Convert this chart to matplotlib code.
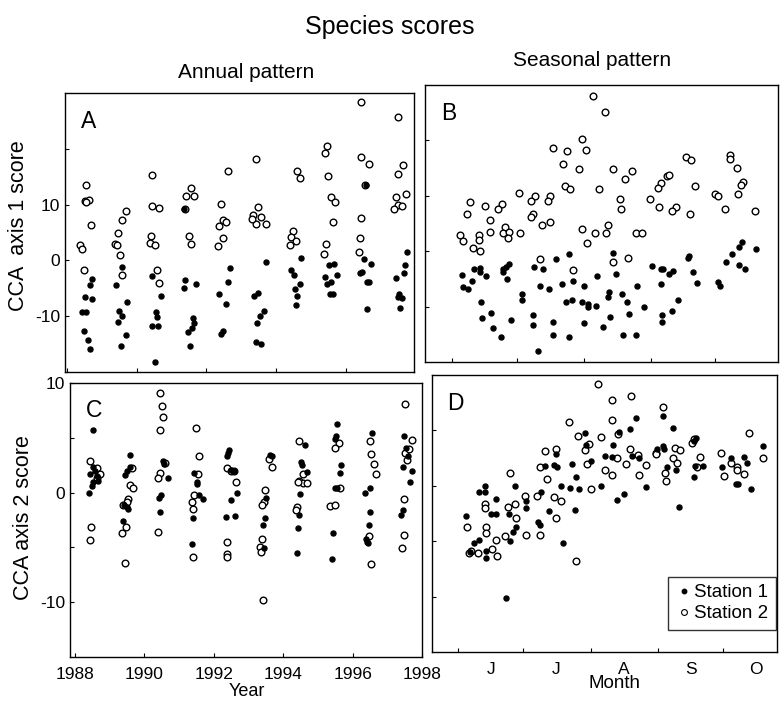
import matplotlib
matplotlib.use("Agg")
import matplotlib.pyplot as plt
from matplotlib.lines import Line2D

plt.rcParams['font.family'] = ['Liberation Sans', 'DejaVu Sans']

# ---- Panel A: CCA axis 1 score vs year ----
a_st1_year = [1988.73, 1988.66, 1988.51, 1988.72, 1988.45, 1988.56, 1988.50, 1988.61, 1988.68,
              1989.57, 1989.42, 1989.74, 1989.50, 1989.57, 1989.47, 1989.69, 1989.56,
              1990.44, 1990.71, 1990.56, 1990.60, 1990.44, 1990.62, 1990.54,
              1991.37, 1991.40, 1991.37, 1991.70, 1991.61, 1991.66, 1991.59, 1991.47, 1991.54,
              1992.68, 1992.63, 1992.35, 1992.56, 1992.49, 1992.41,
              1993.71, 1993.37, 1993.49, 1993.66, 1993.54, 1993.45, 1993.42, 1993.56,
              1994.72, 1994.42, 1994.50, 1994.68, 1994.53, 1994.61, 1994.57,
              1995.66, 1995.51, 1995.74, 1995.40, 1995.56, 1995.45, 1995.54, 1995.62,
              1996.57, 1996.51, 1996.71, 1996.45, 1996.39, 1996.59, 1996.65, 1996.61,
              1997.75, 1997.69, 1997.66, 1997.44, 1997.53, 1997.50, 1997.61, 1997.56]
a_st1_score = [-3.3, -4.4, -6.6, -7.0, -9.3, -9.3, -12.7, -14.3, -15.9,
               -1.2, -4.4, -7.4, -9.1, -9.9, -11.1, -13.4, -15.3,
               -2.8, -6.4, -9.3, -10.2, -11.8, -11.8, -18.2,
               9.2, -3.6, -4.9, -4.2, -10.4, -11.2, -12.1, -12.8, -15.3,
               -1.4, -3.9, -6.1, -7.9, -12.7, -13.2,
               -0.2, -6.3, -5.8, -9.1, -9.9, -11.2, -14.7, -15.0,
               0.4, -1.8, -2.7, -4.2, -5.1, -6.3, -8.0,
               -0.6, -0.9, -2.7, -3.0, -3.9, -4.2, -6.0, -6.0,
               13.5, 0.2, -0.7, -2.1, -2.2, -3.9, -3.9, -8.7,
               1.5, -0.9, -2.3, -3.1, -6.0, -6.6, -6.8, -8.5]
a_st2_year = [1988.54, 1988.51, 1988.64, 1988.56, 1988.70, 1988.39, 1988.45, 1988.49,
              1989.69, 1989.59, 1989.48, 1989.37, 1989.44, 1989.54, 1989.58,
              1990.44, 1990.43, 1990.64, 1990.42, 1990.38, 1990.53, 1990.59, 1990.63,
              1991.56, 1991.42, 1991.66, 1991.51, 1991.57, 1991.40,
              1992.62, 1992.42, 1992.49, 1992.56, 1992.35, 1992.47, 1992.33,
              1993.42, 1993.49, 1993.35, 1993.58, 1993.42, 1993.71, 1993.32,
              1994.61, 1994.67, 1994.47, 1994.42, 1994.56, 1994.40,
              1995.45, 1995.41, 1995.50, 1995.58, 1995.69, 1995.64, 1995.42, 1995.38,
              1996.43, 1996.43, 1996.66, 1996.55, 1996.43, 1996.41, 1996.38,
              1997.49, 1997.63, 1997.49, 1997.72, 1997.44, 1997.49, 1997.39, 1997.61]
a_st2_score = [13.6, 10.6, 10.8, 10.5, 6.3, 2.8, 2.0, -1.8,
               8.9, 7.2, 4.9, 3.0, 2.8, 0.9, -2.7,
               15.3, 9.8, 9.4, 4.3, 3.2, 2.8, -1.8, -4.0,
               12.9, 11.5, 11.5, 4.4, 2.9, 9.3,
               16.0, 10.1, 7.3, 6.9, 6.2, 4.0, 2.5,
               18.2, 9.6, 8.1, 7.8, 6.6, 6.6, 7.4,
               16.0, 14.7, 5.2, 4.2, 3.4, 2.8,
               20.5, 19.2, 15.1, 11.4, 10.4, 6.8, 3.0, 1.1,
               28.3, 18.6, 17.2, 13.5, 7.6, 4.1, 1.5,
               25.7, 17.1, 15.5, 11.9, 11.4, 9.9, 9.3, 9.8]

# ---- Panel B: CCA axis 1 score vs day of year ----
b_st1_day = [206.3, 200.1, 178.5, 177.0, 175.8, 175.8, 190.0, 194.2, 164.9, 164.9, 162.2, 156.5,
             167.7, 177.7, 161.1, 208.2, 219.3, 157.3, 159.6, 192.9, 197.1, 202.8, 213.1, 184.3,
             184.3, 165.4, 204.6, 207.7, 212.0, 214.8, 214.8, 218.6, 165.7, 170.3, 179.5, 189.5,
             189.5, 198.8, 213.0, 170.8, 174.6, 198.8, 206.0, 192.0,
             226.7, 227.8, 244.5, 248.7, 249.9, 252.6, 254.5, 261.9, 261.4, 263.7, 265.7, 248.8,
             237.5, 224.8, 224.1, 230.9, 232.9, 241.0, 225.1, 222.1, 233.8, 249.1, 249.1, 254.1,
             256.8, 231.4, 237.3, 279.1, 281.9, 284.8, 286.5, 284.8, 287.9, 292.7, 275.0, 276.0]
b_st1_score = [-0.5, -1.4, -2.3, -2.8, -3.3, -3.8, -2.8, -3.3, -3.1, -3.8, -3.3, -4.3,
               -4.4, -5.0, -5.3, -5.4, -4.4, -6.5, -6.8, -6.2, -6.8, -6.0, -6.3, -7.7,
               -8.8, -9.1, -9.1, -8.8, -9.1, -9.5, -10.1, -9.9, -12.1, -11.2, -12.4, -11.6,
               -13.3, -12.7, -13.0, -13.8, -15.4, -15.1, -15.4, -18.1,
               -0.4, -4.1, -2.6, -3.3, -3.3, -4.2, -3.5, -0.8, -1.2, -3.8, -5.8, -5.9,
               -6.3, -7.4, -8.3, -7.7, -9.1, -10.1, -11.9, -13.6, -11.4, -11.5, -12.7, -10.8,
               -8.8, -15.1, -15.1, -2.0, -0.5, 0.8, 1.6, -2.5, -3.3, 0.4, -5.5, -6.2]
b_st2_day = [217.4, 212.3, 198.9, 205.1, 214.0, 203.2, 210.8, 204.3, 206.6, 220.2, 183.2, 190.4,
             188.6, 197.4, 196.3, 160.3, 167.4, 175.1, 173.4, 158.8, 169.6, 189.5, 188.5, 193.8,
             197.6, 176.5, 175.8, 178.5, 177.8, 169.6, 183.5, 155.7, 157.2, 164.7, 164.7, 161.9,
             164.9, 212.3, 218.2, 214.4, 192.9, 208.2,
             222.8, 226.7, 235.6, 232.0, 229.8, 230.1, 260.3, 262.5, 280.7, 280.7, 284.1, 251.8,
             252.6, 248.7, 247.6, 264.7, 286.6, 285.8, 284.3, 274.0, 275.3, 243.7, 248.1, 255.6,
             254.1, 262.2, 278.4, 292.3, 224.1, 223.3, 237.0, 240.2, 226.7, 233.6]
b_st2_score = [28.0, 20.2, 18.7, 18.1, 18.2, 15.7, 14.9, 11.7, 11.3, 11.2, 10.5, 10.0,
               9.1, 10.0, 9.1, 8.8, 8.2, 8.5, 7.6, 6.8, 5.6, 6.8, 6.2, 4.7,
               5.2, 4.4, 3.2, 3.5, 2.3, 3.4, 3.2, 3.0, 1.9, 3.0, 2.0, 0.5,
               0.1, 4.0, 3.3, 1.4, -1.4, -3.4,
               25.2, 14.8, 14.5, 13.1, 9.5, 7.6, 17.0, 16.4, 17.3, 16.6, 15.1, 13.6,
               13.7, 12.3, 11.4, 11.8, 12.5, 12.0, 10.4, 10.3, 10.0, 9.4, 8.0, 8.0,
               7.3, 6.8, 7.7, 7.3, 4.7, 3.2, 3.3, 3.3, -2.0, -1.3]

# ---- Panel C: CCA axis 2 score vs year ----
c_st1_year = [1988.53, 1988.44, 1988.42, 1988.51, 1988.58, 1988.63, 1988.68, 1988.53, 1988.49,
              1989.58, 1989.58, 1989.49, 1989.44, 1989.41, 1989.49, 1989.53, 1989.39,
              1990.55, 1990.58, 1990.68, 1990.49, 1990.42, 1990.44,
              1991.44, 1991.53, 1991.51, 1991.58, 1991.68, 1991.39, 1991.37,
              1992.44, 1992.41, 1992.39, 1992.51, 1992.58, 1992.66, 1992.51, 1992.34, 1992.61,
              1993.61, 1993.68, 1993.51, 1993.49, 1993.42, 1993.46,
              1994.63, 1994.51, 1994.54, 1994.68, 1994.49, 1994.47, 1994.44, 1994.41,
              1995.55, 1995.51, 1995.50, 1995.68, 1995.63, 1995.49, 1995.55, 1995.44, 1995.42,
              1996.56, 1996.51, 1996.37, 1996.49, 1996.46, 1996.39, 1996.42, 1996.44,
              1997.49, 1997.53, 1997.61, 1997.46, 1997.72, 1997.66, 1997.44, 1997.40]
c_st1_score = [5.7, 1.7, 0.0, 2.3, 2.0, 1.5, 1.1, 1.0, 0.6,
               3.4, 2.3, 2.0, 1.6, -1.1, -1.3, -1.5, -2.6,
               2.9, 2.6, 1.3, -0.2, -0.5, -1.8,
               1.8, 1.0, 0.8, -0.2, -0.6, -2.3, -4.7,
               3.9, 3.6, 3.3, 2.1, 2.0, 0.0, -0.7, -2.2, -2.1,
               3.4, 3.3, -0.5, -2.3, -3.0, -5.1,
               4.3, 2.8, 2.5, 1.9, -0.1, -2.0, -3.2, -5.5,
               6.3, 5.2, 4.9, 2.5, 1.8, 0.4, 0.4, -3.7, -6.1,
               5.4, 0.4, 0.0, -1.8, -3.0, -4.2, -4.5, -4.6,
               5.2, 4.1, 3.3, 2.3, 2.0, 1.0, -1.6, -2.0]
c_st2_year = [1988.44, 1988.63, 1988.72, 1988.65, 1988.46, 1988.44,
              1989.65, 1989.58, 1989.68, 1989.53, 1989.49, 1989.39, 1989.47, 1989.37, 1989.44,
              1990.46, 1990.51, 1990.55, 1990.44, 1990.61, 1990.44, 1990.39, 1990.39,
              1991.49, 1991.58, 1991.56, 1991.44, 1991.37, 1991.39, 1991.39,
              1992.39, 1992.51, 1992.58, 1992.65, 1992.39, 1992.39, 1992.39,
              1993.58, 1993.68, 1993.47, 1993.44, 1993.39, 1993.39, 1993.34, 1993.37, 1993.42,
              1994.47, 1994.58, 1994.47, 1994.56, 1994.68, 1994.44, 1994.41, 1994.37,
              1995.61, 1995.49, 1995.63, 1995.36, 1995.49,
              1996.49, 1996.53, 1996.61, 1996.68, 1996.47, 1996.53,
              1997.51, 1997.71, 1997.51, 1997.63, 1997.58, 1997.48, 1997.48, 1997.42]
c_st2_score = [2.9, 2.2, 1.7, 1.3, -3.1, -4.3,
               2.2, 0.7, 0.4, -0.6, -0.9, -1.1, -3.1, -3.7, -6.4,
               9.1, 7.9, 6.9, 5.7, 2.7, 1.8, 1.3, -3.6,
               5.9, 3.3, 1.7, -0.2, -0.9, -1.5, -5.9,
               2.2, 2.0, 2.0, 1.0, -4.5, -5.6, -5.9,
               3.1, 2.3, 0.2, -0.9, -1.1, -4.2, -5.0, -5.4, -9.8,
               4.7, 1.7, 1.1, 0.9, 0.9, 1.0, -1.3, -1.6,
               4.5, 4.1, 0.4, -1.2, -1.1,
               4.7, 3.5, 2.6, 1.7, -4.0, -6.5,
               8.1, 4.8, 3.6, 4.0, 3.0, -0.6, -3.9, -5.1]

# ---- Panel D: CCA axis 2 score vs day of year ----
d_st1_day = [210.2, 211.0, 197.2, 196.1, 197.6, 191.8, 204.3, 213.3, 219.4, 206.2, 199.5, 203.6,
             207.4, 217.6, 190.3, 178.2, 164.3, 164.3, 161.5, 169.6, 183.4, 183.4, 175.3, 167.2,
             169.6, 193.7, 205.6, 155.8, 188.8, 189.6, 178.5, 177.3, 175.8, 200.4, 161.8, 159.5,
             164.7, 165.0, 157.3, 174.0,
             234.0, 246.4, 250.7, 226.2, 231.1, 223.1, 222.7, 232.2, 235.3, 243.4, 246.4, 246.9,
             261.5, 260.3, 248.0, 252.3, 261.0, 264.8, 260.3, 273.3, 277.4, 283.5, 284.8, 292.1,
             279.9, 280.6, 286.7, 238.6, 228.4, 225.3, 253.4]
d_st1_score = [4.8, 3.7, 2.9, 1.9, 1.7, 1.8, 2.0, 2.2, 2.7, 0.8, 0.0, -0.2,
               -0.3, 0.0, -0.6, 0.0, 0.0, -0.6, -0.6, -1.2, -1.4, -2.0, -2.5, -2.5,
               -2.5, -2.3, -2.2, -2.7, -3.3, -3.5, -3.7, -4.2, -5.0, -5.2, -4.9, -5.2,
               -5.9, -6.5, -6.0, -10.1,
               6.1, 6.3, 5.2, 4.9, 5.1, 3.7, 2.6, 2.7, 2.5, 3.3, 3.6, 3.3,
               4.3, 4.0, 1.7, 1.4, 1.8, 1.8, 0.8, 1.7, 2.5, 2.6, 2.1, 3.6,
               0.2, 0.2, -0.3, -0.1, -0.7, -1.3, -1.9]
d_st2_day = [216.4, 202.9, 207.2, 217.6, 210.2, 212.2, 191.8, 196.9, 189.8, 175.8, 192.9, 211.4,
             219.7, 213.3, 196.1, 199.5, 182.9, 188.3, 164.3, 164.6, 175.0, 178.4, 178.5, 164.7,
             164.7, 155.9, 173.8, 169.6, 183.4, 189.6, 197.2, 158.1, 161.2, 157.0, 167.8, 169.9,
             206.1,
             231.5, 222.7, 222.9, 246.4, 225.4, 231.1, 251.8, 254.1, 259.5, 260.3, 242.9, 242.9,
             225.3, 229.1, 223.0, 234.8, 238.3, 250.7, 252.6, 263.3, 247.1, 247.5, 235.1, 262.1,
             272.8, 277.4, 280.2, 280.2, 283.5, 274.3, 285.7, 292.3]
d_st2_score = [9.2, 5.8, 4.5, 4.4, 3.2, 3.8, 3.1, 3.3, 1.7, 1.2, 0.6, 2.0,
               1.4, -0.3, -1.0, -1.4, -0.9, -0.9, -1.6, -2.0, -1.9, -1.6, -2.9, -3.7,
               -4.3, -3.7, -4.5, -4.9, -4.4, -4.4, -2.9, -5.9, -6.1, -6.1, -5.7, -6.3,
               -6.8,
               8.1, 7.7, 5.9, 7.1, 4.7, 3.3, 3.4, 3.2, 3.9, 4.2, 3.0, 2.9,
               2.5, 2.0, 1.0, 2.8, 1.9, 2.5, 2.1, 2.6, 1.2, 0.4, 1.0, 1.7,
               3.0, 2.1, 1.7, 1.4, 1.1, 0.9, 4.8, 2.5]

year_ticks = [1988, 1990, 1992, 1994, 1996, 1998]
month_starts = [152, 182, 213, 244, 274]
month_mids = [167, 197, 228, 259, 289]
month_labels = ['J', 'J', 'A', 'S', 'O']

W, H = 783, 702


def box(left, top, right, bottom):
    return [left / W, 1 - bottom / H, (right - left) / W, (bottom - top) / H]


def scatter(ax, x1, y1, x2, y2):
    ax.plot(x2, y2, 'o', ms=4.8, mfc='white', mec='black', mew=1.0, ls='none')
    ax.plot(x1, y1, 'o', ms=3.6, color='black', ls='none')


def style(ax):
    for s in ax.spines.values():
        s.set_linewidth(1.0)
    ax.tick_params(direction='in', length=3, width=0.8, labelsize=12.5,
                   top=False, right=False)


fig = plt.figure(figsize=(W / 100, H / 100), dpi=100)

axA = fig.add_axes(box(65, 93, 414, 372))
axB = fig.add_axes(box(425, 85, 778, 362))
axC = fig.add_axes(box(70, 383, 422, 657))
axD = fig.add_axes(box(432, 375, 777, 652))

scatter(axA, a_st1_year, a_st1_score, a_st2_year, a_st2_score)
scatter(axB, b_st1_day, b_st1_score, b_st2_day, b_st2_score)
scatter(axC, c_st1_year, c_st1_score, c_st2_year, c_st2_score)
scatter(axD, d_st1_day, d_st1_score, d_st2_day, d_st2_score)

for ax in (axA, axB, axC, axD):
    style(ax)

# annual panels
axA.set_xlim(1987.95, 1997.95)
axA.set_ylim(-20, 30)
axA.set_xticks(year_ticks[:-1])
axA.set_xticklabels([])
axA.set_yticks([-10, 0, 10, 20])
axA.set_yticklabels(['-10', '0', '10', ''])

axC.set_xlim(1987.86, 1998.0)
axC.set_ylim(-15, 10)
axC.set_xticks(year_ticks)
axC.set_xticklabels([str(y) for y in year_ticks])
axC.set_yticks([-10, -5, 0, 5, 10])
axC.set_yticklabels(['-10', '', '0', '', '10'])
axC.tick_params(axis='x', pad=7)

# seasonal panels
axB.set_xlim(139.5, 303)
axB.set_ylim(-20, 30)
axB.set_xticks(month_starts)
axB.set_xticklabels([])
axB.set_yticks([-10, 0, 10, 20])
axB.set_yticklabels([])

axD.set_xlim(140, 298.7)
axD.set_ylim(-15, 10)
axD.set_xticks(month_starts)
axD.set_xticklabels([])
axD.set_xticks(month_mids, minor=True)
axD.set_xticklabels(month_labels, minor=True)
axD.tick_params(axis='x', which='minor', length=0, pad=7, labelsize=12.5)
axD.set_yticks([-10, -5, 0, 5])
axD.set_yticklabels([])

for ax, letter in zip((axA, axB, axC, axD), 'ABCD'):
    ax.text(0.045, 0.94, letter, transform=ax.transAxes, fontsize=16.5,
            ha='left', va='top')

handles = [Line2D([], [], marker='o', ls='none', ms=3.2, color='black'),
           Line2D([], [], marker='o', ls='none', ms=4.2, mfc='white', mec='black', mew=0.8)]
leg = axD.legend(handles, ['Station 1', 'Station 2'], loc='lower right',
                 bbox_to_anchor=(0.997, 0.08), fontsize=13.5, frameon=True,
                 fancybox=False, handlelength=0.9, handletextpad=0.1,
                 borderpad=0.4, labelspacing=0.2, borderaxespad=0)
leg.get_frame().set_edgecolor('black')
leg.get_frame().set_linewidth(1.0)

fig.text(390 / W, 1 - 27 / H, 'Species scores', fontsize=18, ha='center', va='center')
fig.text(246 / W, 1 - 72 / H, 'Annual pattern', fontsize=15, ha='center', va='center')
fig.text(592 / W, 1 - 61 / H, 'Seasonal pattern', fontsize=15, ha='center', va='center')
fig.text(19 / W, 1 - 226 / H, 'CCA  axis 1 score', fontsize=15.5, rotation=90,
         ha='center', va='center')
fig.text(24 / W, 1 - 518 / H, 'CCA axis 2 score', fontsize=15.5, rotation=90,
         ha='center', va='center')
fig.text(247 / W, 1 - 692 / H, 'Year', fontsize=13, ha='center', va='center')
fig.text(614 / W, 1 - 684 / H, 'Month', fontsize=13.5, ha='center', va='center')

fig.savefig('out.png', dpi=100, facecolor='white')
